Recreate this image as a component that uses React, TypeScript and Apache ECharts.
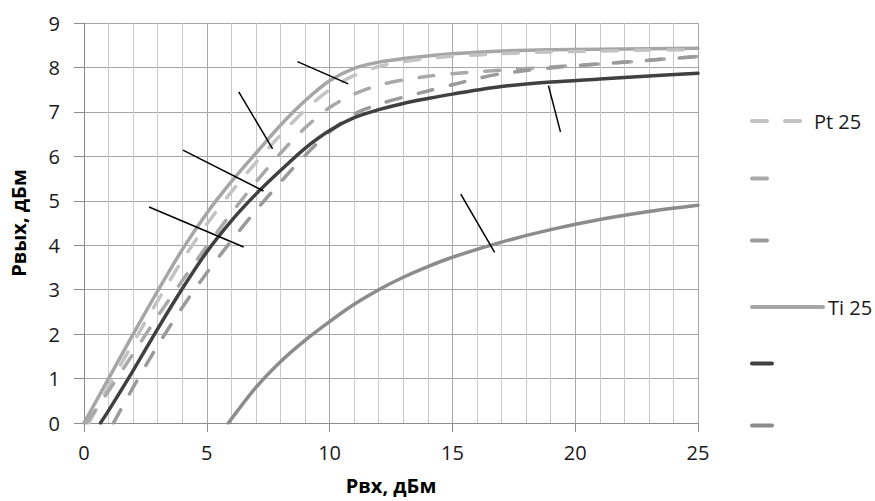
import React, { useEffect, useRef } from "react";
import * as echarts from "echarts";

// ---- data ----
const xTicksInterval = 5;

const pt25X = [0.2, 1, 2, 3, 4, 5, 6, 7, 8, 9, 10, 11, 12, 13, 14, 15, 17, 19, 21, 23, 25];
const pt25Y = [0, 0.82, 1.8, 2.75, 3.66, 4.47, 5.2, 5.86, 6.48, 7.04, 7.5, 7.82, 8.02, 8.13, 8.2, 8.25, 8.31, 8.35, 8.37, 8.39, 8.4];

const dashAX = [0.1, 1, 2, 3, 4, 5, 6, 7, 8, 9, 10, 11, 12, 13, 14, 15, 17, 19, 21, 23, 25];
const dashAY = [0, 0.72, 1.56, 2.4, 3.2, 3.98, 4.72, 5.42, 6.07, 6.64, 7.1, 7.4, 7.6, 7.72, 7.8, 7.86, 7.94, 8.01, 8.08, 8.16, 8.25];

const dashBX = [1.2, 2, 3, 4, 5, 6, 7, 8, 9, 10, 11, 12, 13, 14, 15, 16, 17, 19, 21, 23, 25];
const dashBY = [0, 0.8, 1.74, 2.6, 3.38, 4.1, 4.78, 5.42, 6.02, 6.55, 6.95, 7.17, 7.33, 7.47, 7.61, 7.75, 7.86, 7.99, 8.08, 8.16, 8.25];

const ti25X = [0, 1, 2, 3, 4, 5, 6, 7, 8, 9, 10, 11, 12, 13, 14, 15, 17, 19, 21, 23, 25];
const ti25Y = [0, 1.0, 2.0, 2.97, 3.9, 4.72, 5.43, 6.07, 6.7, 7.25, 7.7, 7.98, 8.12, 8.2, 8.26, 8.31, 8.37, 8.4, 8.41, 8.42, 8.43];

const darkX = [0.67, 1, 2, 3, 4, 5, 6, 7, 8, 9, 10, 11, 12, 13, 14, 15, 17, 19, 21, 23, 25];
const darkY = [0, 0.28, 1.18, 2.12, 3.02, 3.85, 4.55, 5.15, 5.68, 6.18, 6.58, 6.87, 7.05, 7.19, 7.3, 7.4, 7.57, 7.67, 7.74, 7.81, 7.87];

const lowX = [5.88, 7, 8, 9, 10, 11, 12, 13, 14, 15, 17, 19, 21, 23, 25];
const lowY = [0, 0.8, 1.38, 1.86, 2.28, 2.67, 3.0, 3.28, 3.52, 3.73, 4.07, 4.35, 4.58, 4.76, 4.9];

// callout (leader) lines: [x1, y1, x2, y2] in data units
const callouts = [
  [2.65, 4.86, 6.5, 3.96],
  [4.03, 6.14, 7.31, 5.22],
  [6.3, 7.45, 7.68, 6.17],
  [8.69, 8.13, 10.76, 7.63],
  [18.91, 7.59, 19.4, 6.55],
  [15.34, 5.15, 16.72, 3.84],
];

const seriesNames = ["Pt 25", "Серия 2", "Серия 3", "Ti 25", "Серия 5", "Серия 6"];
const shownNames = ["Pt 25", "Ti 25"];

const FONT = "Open Sans";

function pairs(xs: number[], ys: number[]) {
  return xs.map((x, i) => [x, ys[i]]);
}

export default function App() {
  const ref = useRef<HTMLDivElement>(null);
  useEffect(() => {
    if (!ref.current) return;
    const chart = echarts.init(ref.current, null, { renderer: "svg" });

    const dash = [15, 18];
    const lineSeries = (
      name: string,
      xs: number[],
      ys: number[],
      color: string,
      dashed: boolean,
      z: number
    ) => ({
      type: "line",
      name,
      data: pairs(xs, ys),
      smooth: 0.3,
      symbol: "none",
      showSymbol: false,
      z,
      lineStyle: {
        color,
        width: 3.5,
        type: dashed ? dash : "solid",
        cap: "round",
        join: "round",
      },
      itemStyle: { color },
    });

    const series: any[] = [
      lineSeries(seriesNames[0], pt25X, pt25Y, "#c3c3c3", true, 3),
      lineSeries(seriesNames[1], dashAX, dashAY, "#a9a9a9", true, 4),
      lineSeries(seriesNames[2], dashBX, dashBY, "#9a9a9a", true, 4),
      lineSeries(seriesNames[3], ti25X, ti25Y, "#a6a6a6", false, 2),
      lineSeries(seriesNames[4], darkX, darkY, "#404040", false, 5),
      lineSeries(seriesNames[5], lowX, lowY, "#8c8c8c", false, 5),
    ];
    callouts.forEach((c, i) => {
      series.push({
        type: "line",
        name: "callout" + i,
        data: [
          [c[0], c[1]],
          [c[2], c[3]],
        ],
        symbol: "none",
        z: 10,
        lineStyle: { color: "#000", width: 1.5 },
      });
    });

    const legendRows = [121, 183, 245, 307, 368, 430];
    const legendWidths = [57, 20, 20, 71, 20, 20];
    const legends = seriesNames.map((n, i) => ({
      show: true,
      orient: "vertical",
      left: 750,
      top: legendRows[i] - 10,
      padding: 0,
      itemWidth: legendWidths[i],
      itemHeight: 14,
      data: [n],
      selectedMode: false,
      formatter: (name: string) => (shownNames.indexOf(name) >= 0 ? name : ""),
      textStyle: { fontFamily: FONT, fontSize: 20, color: "#1a1a1a", lineHeight: 20 },
      itemStyle: { opacity: 0, borderWidth: 0 },
      lineStyle: { width: 4, cap: "round" },
    }));

    chart.setOption({
      animation: false,
      backgroundColor: "#ffffff",
      textStyle: { fontFamily: FONT },
      grid: { left: 82, right: 177, top: 23, bottom: 78, containLabel: false },
      legend: legends,
      xAxis: {
        type: "value",
        min: 0,
        max: 25,
        interval: xTicksInterval,
        name: "Рвх, дБм",
        nameLocation: "middle",
        nameGap: 52,
        nameTextStyle: { fontFamily: FONT, fontSize: 20, fontWeight: "bold", color: "#000" },
        axisLine: { show: true, lineStyle: { color: "#8c8c8c", width: 1 } },
        axisTick: { show: true, length: 9, lineStyle: { color: "#8c8c8c" } },
        axisLabel: { fontFamily: FONT, fontSize: 20, color: "#1a1a1a", margin: 19 },
        splitLine: { show: true, lineStyle: { color: "#a6a6a6", width: 1 } },
        minorTick: { show: false, splitNumber: 5 },
        minorSplitLine: { show: true, lineStyle: { color: "#c8c8c8", width: 1 } },
      },
      yAxis: {
        type: "value",
        min: 0,
        max: 9,
        interval: 1,
        name: "Рвых, дБм",
        nameLocation: "middle",
        nameGap: 56,
        nameTextStyle: { fontFamily: FONT, fontSize: 20, fontWeight: "bold", color: "#000" },
        axisLine: { show: true, lineStyle: { color: "#8c8c8c", width: 1 } },
        axisTick: { show: true, length: 10, lineStyle: { color: "#8c8c8c" } },
        axisLabel: { fontFamily: FONT, fontSize: 20, color: "#1a1a1a", margin: 24 },
        splitLine: { show: true, lineStyle: { color: "#a6a6a6", width: 1 } },
      },
      series,
    });
    return () => chart.dispose();
  }, []);
  return (
    <div
      ref={ref}
      style={{ position: "fixed", left: 0, top: 0, width: 875, height: 501, background: "#fff" }}
    />
  );
}
